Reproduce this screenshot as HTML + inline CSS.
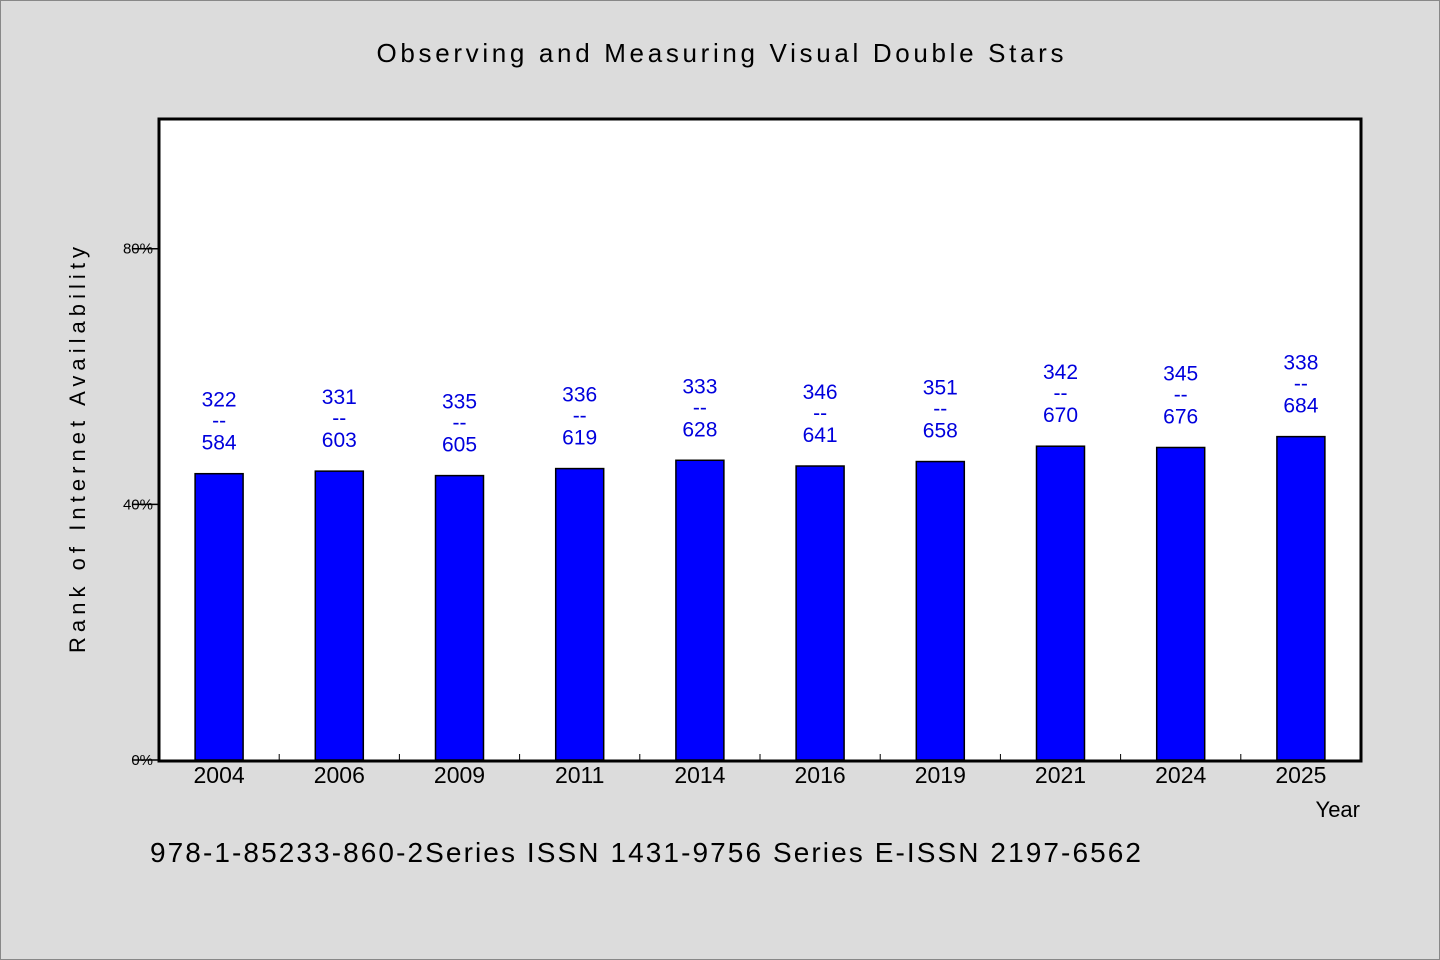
<!DOCTYPE html>
<html><head><meta charset="utf-8"><style>
body{margin:0;background:#dcdcdc}
svg{display:block}
text{font-family:"WenQuanYi Zen Hei","Liberation Sans",sans-serif}
</style></head><body>
<svg id="chart" width="1440" height="960" viewBox="0 0 1440 960">
<rect x="0.5" y="0.5" width="1439" height="959" fill="#dcdcdc" stroke="#888"/>
<text x="720" y="62" text-anchor="middle" font-size="26" textLength="687" lengthAdjust="spacing">Observing and Measuring Visual Double Stars</text>
<rect x="159" y="119" width="1202" height="642" fill="#fff"/>
<g id="bars"></g>
<rect x="159" y="119" width="1202" height="642" fill="none" stroke="#000" stroke-width="3"/>
<text transform="translate(85,450) rotate(-90)" text-anchor="middle" font-size="22" textLength="406" lengthAdjust="spacing">Rank of Internet Availability</text>
<text x="1360" y="817" text-anchor="end" font-size="22">Year</text>
<text x="150" y="862" font-size="28" textLength="991" lengthAdjust="spacing">978-1-85233-860-2Series ISSN 1431-9756 Series E-ISSN 2197-6562</text>
</svg>
<script>
const categories = ["2004","2006","2009","2011","2014","2016","2019","2021","2024","2025"];
const values = [44.8, 45.2, 44.5, 45.6, 46.9, 46.0, 46.7, 49.1, 48.9, 50.6];
const numerators = ["322","331","335","336","333","346","351","342","345","338"];
const denominators = ["584","603","605","619","628","641","658","670","676","684"];
const yTicks = [0, 40, 80];
const yTickLabels = ["0%","40%","80%"];

const NS = "http://www.w3.org/2000/svg";
const g = document.getElementById("bars");
const left = 159, right = 1361, top0 = 119, bottom = 760;
const yMax = 100.3;
const band = (right - left) / categories.length;
function x(i){ return left + band * (i + 0.5); }
function y(v){ return bottom - v / yMax * (bottom - top0); }
function mk(tag, attrs, txt){
  const e = document.createElementNS(NS, tag);
  for (const k in attrs) e.setAttribute(k, attrs[k]);
  if (txt !== undefined) e.textContent = txt;
  g.appendChild(e);
  return e;
}
yTicks.forEach((t, i) => {
  const l = mk("line", {x1: 133, x2: 159, y1: y(t), y2: y(t), stroke: "#000", "stroke-width": 1.5});
  
  
  const tx = mk("text", {x: 153, y: y(t) + 5, "text-anchor": "end", "font-size": 15}, yTickLabels[i]);
  
  
});
categories.forEach((c, i) => {
  if (i > 0) {
    const tk = mk("line", {x1: left + band * i, x2: left + band * i, y1: bottom, y2: bottom - 6, stroke: "#000", "stroke-width": 1});
    
    
  }
  const yt = y(values[i]);
  const r = mk("rect", {x: x(i) - 24, y: yt, width: 48, height: bottom - yt, fill: "#0000ff", stroke: "#000", "stroke-width": 1.5});
  
  
  const n = mk("text", {x: x(i), y: yt - 67, "text-anchor": "middle", "font-size": 21, fill: "#0000dd"}, numerators[i]);
  
  
  const d = mk("text", {x: x(i), y: yt - 46, "text-anchor": "middle", "font-size": 21, fill: "#0000dd"}, "--");
  
  
  const den = mk("text", {x: x(i), y: yt - 24, "text-anchor": "middle", "font-size": 21, fill: "#0000dd"}, denominators[i]);
  
  
  const xl = mk("text", {x: x(i), y: 783, "text-anchor": "middle", "font-size": 23}, c);
  
  
});
</script>
</body></html>
